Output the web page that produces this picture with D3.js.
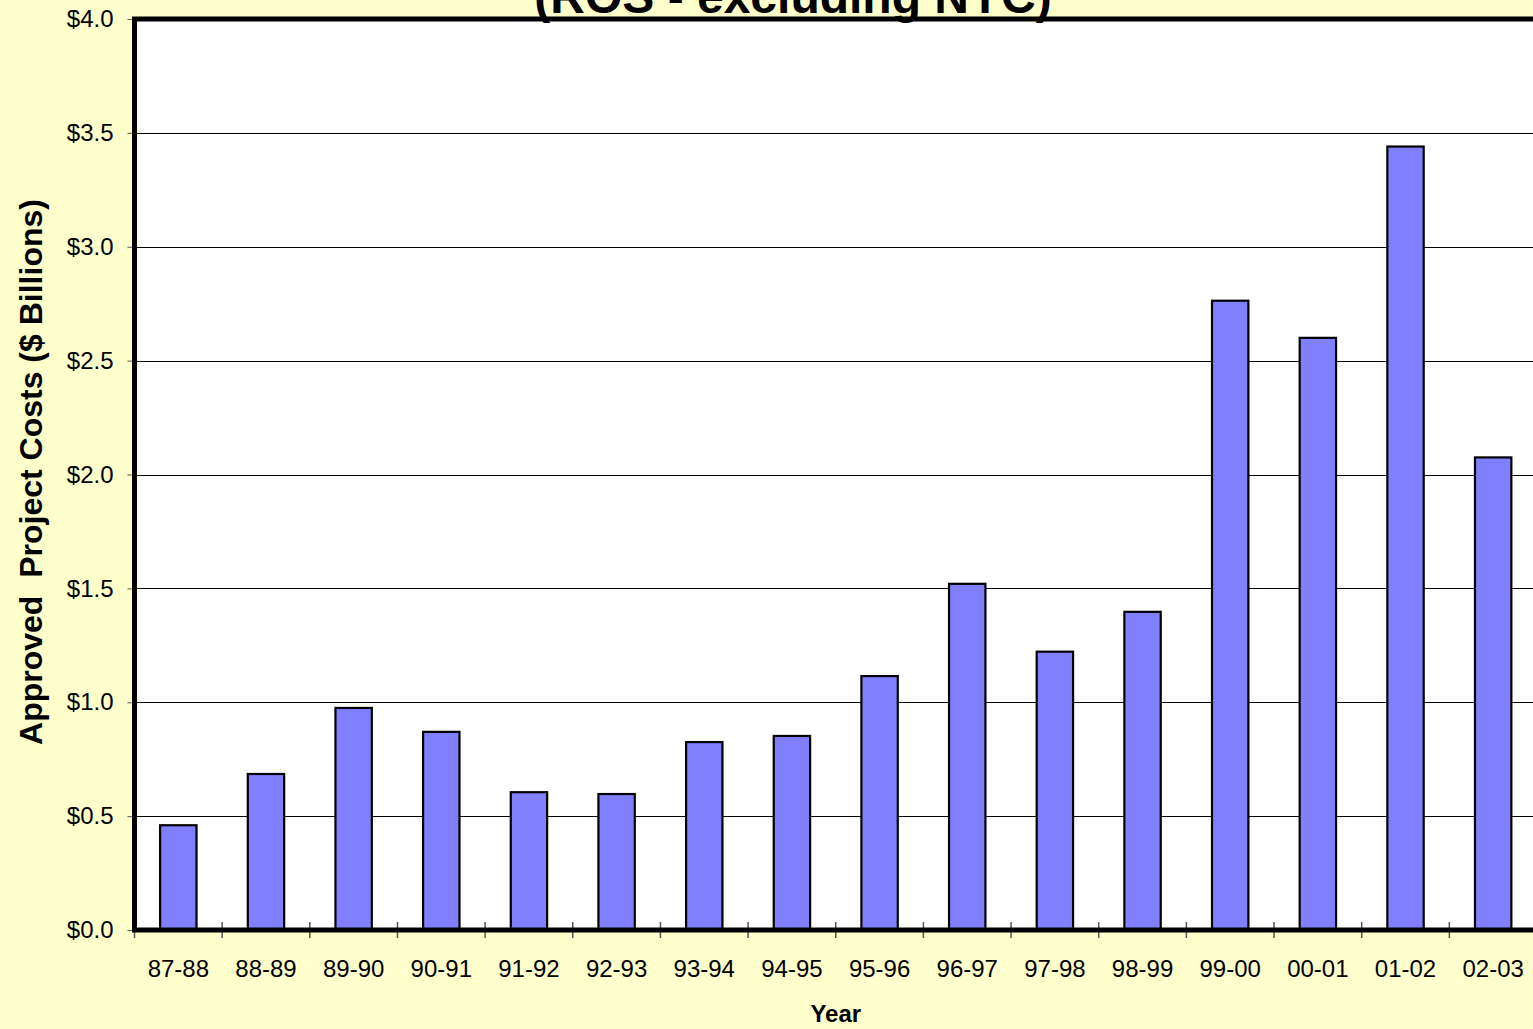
<!DOCTYPE html>
<html>
<head>
<meta charset="utf-8">
<script src="https://cdn.jsdelivr.net/npm/d3@7"></script>
<style>
  html, body { margin: 0; padding: 0; background: #FFFFCC; }
  svg { display: block; font-family: "Liberation Sans", Arial, sans-serif; }
</style>
</head>
<body>
<svg id="chart" width="1533" height="1029"></svg>
<script>
const categories = ["87-88","88-89","89-90","90-91","91-92","92-93","93-94","94-95",
                    "95-96","96-97","97-98","98-99","99-00","00-01","01-02","02-03"];
const values = [0.46, 0.685, 0.975, 0.87, 0.605, 0.597, 0.825, 0.852,
                1.115, 1.52, 1.222, 1.397, 2.763, 2.60, 3.44, 2.075];
const yTicks = [0, 0.5, 1.0, 1.5, 2.0, 2.5, 3.0, 3.5, 4.0];
const titleText = "(ROS - excluding NYC)";
const yLabel = "Approved  Project Costs ($ Billions)";
const xLabel = "Year";

const W = 1533, H = 1029;
const plot = { left: 134.5, right: 1537, top: 19, bottom: 930 };

const svg = d3.select("#chart");
svg.append("rect").attr("width", W).attr("height", H).attr("fill", "#FFFFCC");

const x = d3.scaleBand().domain(categories)
  .range([plot.left, plot.right]).paddingInner(0.585).paddingOuter(0.2925);
const y = d3.scaleLinear().domain([0, 4]).range([plot.bottom, plot.top]);

// plot background
svg.append("rect")
  .attr("x", plot.left).attr("y", plot.top)
  .attr("width", plot.right - plot.left).attr("height", plot.bottom - plot.top)
  .attr("fill", "#FFFFFF");

// gridlines
svg.append("g").selectAll("line").data(yTicks.filter(d => d > 0 && d < 4)).join("line")
  .attr("x1", plot.left).attr("x2", plot.right)
  .attr("y1", d => Math.round(y(d)) + 0.5).attr("y2", d => Math.round(y(d)) + 0.5)
  .attr("stroke", "#000").attr("stroke-width", 1);

// bars
svg.append("g").selectAll("rect").data(values).join("rect")
  .attr("x", (d, i) => x(categories[i]))
  .attr("y", d => y(d))
  .attr("width", x.bandwidth())
  .attr("height", d => plot.bottom - y(d))
  .attr("fill", "#8080FF")
  .attr("stroke", "#000")
  .attr("stroke-width", 2.2);

// y axis
const yAxis = d3.axisLeft(y).tickValues(yTicks)
  .tickFormat(d => "$" + d3.format(".1f")(d)).tickSize(7).tickPadding(14);
const gy = svg.append("g").attr("transform", `translate(${plot.left},0)`).call(yAxis);
gy.select(".domain").remove();
gy.selectAll(".tick line").attr("stroke", "#555");
gy.selectAll(".tick text").attr("font-size", 24).attr("fill", "#000")
  .attr("font-family", "'Liberation Sans', Arial, sans-serif");

// x axis: ticks at band boundaries
const boundaries = d3.range(categories.length + 1).map(i => plot.left + i * x.step());
svg.append("g").selectAll("line").data(boundaries).join("line")
  .attr("x1", d => d).attr("x2", d => d)
  .attr("y1", plot.bottom - 8).attr("y2", plot.bottom + 8)
  .attr("stroke", "#555").attr("stroke-width", 1.5);
const xAxis = d3.axisBottom(x).tickSize(0).tickPadding(30);
const gx = svg.append("g").attr("transform", `translate(0,${plot.bottom})`).call(xAxis);
gx.select(".domain").remove();
gx.selectAll(".tick text").attr("font-size", 24).attr("fill", "#000")
  .attr("font-family", "'Liberation Sans', Arial, sans-serif");

// frame
svg.append("rect")
  .attr("x", plot.left).attr("y", plot.top)
  .attr("width", plot.right - plot.left).attr("height", plot.bottom - plot.top)
  .attr("fill", "none").attr("stroke", "#000").attr("stroke-width", 5);

// title (cut off at the top edge, as in the reference)
svg.append("text").attr("x", 793).attr("y", 13)
  .attr("text-anchor", "middle").attr("font-size", 48).attr("font-weight", "bold")
  .text(titleText);

// y label
svg.append("text").attr("transform", "translate(42,472) rotate(-90)")
  .attr("text-anchor", "middle").attr("font-size", 32).attr("font-weight", "bold")
  .attr("xml:space", "preserve").style("white-space", "pre")
  .text(yLabel);

// x label
svg.append("text").attr("x", (plot.left + plot.right) / 2).attr("y", 1022)
  .attr("text-anchor", "middle").attr("font-size", 24).attr("font-weight", "bold")
  .text(xLabel);
</script>
</body>
</html>
